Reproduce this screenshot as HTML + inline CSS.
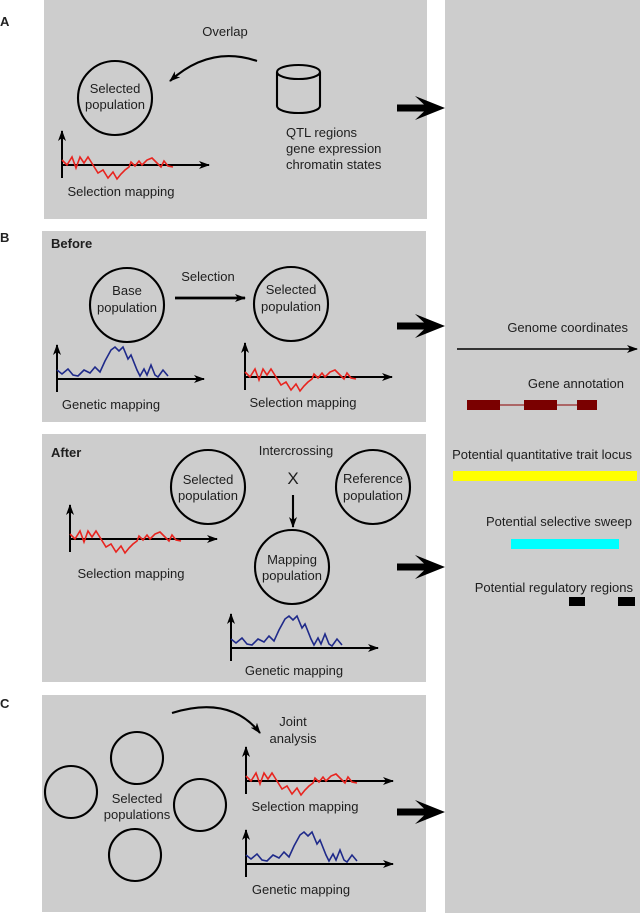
<!DOCTYPE html>
<html><head><meta charset="utf-8"><style>
html,body{margin:0;padding:0;background:#fff;}
svg{display:block;font-family:"Liberation Sans",Arial,sans-serif;}
</style></head><body>
<svg width="640" height="913" viewBox="0 0 640 913" xmlns="http://www.w3.org/2000/svg">
<defs>
<marker id="ah" markerWidth="11" markerHeight="8" refX="10" refY="4" orient="auto" markerUnits="userSpaceOnUse">
<path d="M0,0 L11,4 L0,8 L3,4 Z" fill="#000"/></marker>
<path id="red" fill="none" stroke="#e8241f" stroke-width="1.6" d="M0,-5 L5,0 L10,-8 L14,3 L18,-8 L22,-2 L26,-8 L31,0 L36,8 L41,5 L46,13 L51,7 L55,14 L59,9 L63,5 L67,2 L69,-3 L73,1 L77,-4 L80,0 L85,-5 L90,-7 L95,-2 L99,2 L102,-4 L106,1 L111,2"/>
<path id="blue" fill="none" stroke="#1f2a8a" stroke-width="1.6" d="M0,-9 L5,-5 L11,-10 L16,-4 L21,-3 L27,-9 L33,-6 L38,-12 L43,-7 L48,-18 L54,-29 L58,-32 L62,-28 L66,-32 L71,-20 L74,-24 L80,-9 L83,-3 L87,-10 L90,-4 L94,-14 L98,-4 L101,-2 L106,-9 L111,-3"/>
<g id="ax" stroke="#000" stroke-width="2" fill="none">
<line x1="0" y1="13" x2="0" y2="-34" marker-end="url(#ah)"/>
<line x1="0" y1="0" x2="147" y2="0" marker-end="url(#ah)"/>
</g>
<polygon id="big" points="0,-3.5 27,-3.5 18,-12 48,0 18,12 27,3.5 0,3.5" fill="#000"/>
</defs>
<rect x="0" y="0" width="640" height="913" fill="#fff"/>
<rect x="44" y="0" width="383" height="219" fill="#cdcdcd"/>
<rect x="42" y="231" width="384" height="191" fill="#cdcdcd"/>
<rect x="42" y="434" width="384" height="248" fill="#cdcdcd"/>
<rect x="42" y="695" width="384" height="217" fill="#cdcdcd"/>
<rect x="445" y="0" width="195" height="913" fill="#cdcdcd"/>

<g font-size="13" fill="#222">
<text x="0" y="26" font-weight="bold" font-size="13">A</text>
<text x="0" y="242" font-weight="bold" font-size="13">B</text>
<text x="0" y="708" font-weight="bold" font-size="13">C</text>
</g>

<g fill="none" stroke="#000" stroke-width="2.1">
<circle cx="115" cy="98" r="37"/>
<path d="M257,61 Q210,45 170,81" marker-end="url(#ah)"/>
<path d="M277,72 L277,106 A21.5,7 0 0 0 320,106 L320,72"/>
<ellipse cx="298.5" cy="72" rx="21.5" ry="7"/>
<circle cx="127" cy="305" r="37"/>
<circle cx="291" cy="304" r="37"/>
<line x1="175" y1="298" x2="245" y2="298" stroke-width="2.8" marker-end="url(#ah)"/>
<circle cx="208" cy="487" r="37"/>
<circle cx="373" cy="487" r="37"/>
<circle cx="292" cy="567" r="37"/>
<line x1="293" y1="495" x2="293" y2="527" marker-end="url(#ah)"/>
<circle cx="71" cy="792" r="26"/>
<circle cx="137" cy="758" r="26"/>
<circle cx="200" cy="805" r="26"/>
<circle cx="135" cy="855" r="26"/>
<path d="M172,713 Q230,695 260,733" marker-end="url(#ah)"/>
</g>

<use href="#ax" x="62" y="165"/><use href="#red" x="62" y="165"/>
<use href="#ax" x="57" y="379"/><use href="#blue" x="57" y="379"/>
<use href="#ax" x="245" y="377"/><use href="#red" x="245" y="377"/>
<use href="#ax" x="70" y="539"/><use href="#red" x="70" y="539"/>
<use href="#ax" x="231" y="648"/><use href="#blue" x="231" y="648"/>
<use href="#ax" x="246" y="781"/><use href="#red" x="246" y="781"/>
<use href="#ax" x="246" y="864"/><use href="#blue" x="246" y="864"/>

<use href="#big" x="397" y="108"/>
<use href="#big" x="397" y="326"/>
<use href="#big" x="397" y="567"/>
<use href="#big" x="397" y="812"/>

<g font-size="13" fill="#1e1e1e" text-anchor="middle">
<text x="225" y="36">Overlap</text>
<text x="115" y="93">Selected</text><text x="115" y="109">population</text>
<text x="121" y="196">Selection mapping</text>
<text x="286" y="137" text-anchor="start">QTL regions</text>
<text x="286" y="153" text-anchor="start">gene expression</text>
<text x="286" y="169" text-anchor="start">chromatin states</text>

<text x="51" y="248" text-anchor="start" font-weight="bold">Before</text>
<text x="127" y="295">Base</text><text x="127" y="312">population</text>
<text x="208" y="281">Selection</text>
<text x="291" y="294">Selected</text><text x="291" y="311">population</text>
<text x="111" y="409">Genetic mapping</text>
<text x="303" y="407">Selection mapping</text>

<text x="51" y="457" text-anchor="start" font-weight="bold">After</text>
<text x="296" y="455">Intercrossing</text>
<text x="293" y="484" font-size="17">X</text>
<text x="208" y="484">Selected</text><text x="208" y="500">population</text>
<text x="373" y="483">Reference</text><text x="373" y="500">population</text>
<text x="292" y="564">Mapping</text><text x="292" y="580">population</text>
<text x="131" y="578">Selection mapping</text>
<text x="294" y="675">Genetic mapping</text>

<text x="293" y="726">Joint</text><text x="293" y="743">analysis</text>
<text x="137" y="803">Selected</text><text x="137" y="819">populations</text>
<text x="305" y="811">Selection mapping</text>
<text x="301" y="894">Genetic mapping</text>
</g>

<g font-size="13" fill="#1e1e1e" text-anchor="end">
<text x="628" y="332">Genome coordinates</text>
<text x="624" y="388">Gene annotation</text>
<text x="632" y="459">Potential quantitative trait locus</text>
<text x="632" y="526">Potential selective sweep</text>
<text x="633" y="592">Potential regulatory regions</text>
</g>
<line x1="457" y1="349" x2="637" y2="349" stroke="#000" stroke-width="1.6" marker-end="url(#ah)"/>
<line x1="500" y1="405" x2="577" y2="405" stroke="#8b0000" stroke-width="1"/>
<rect x="467" y="400" width="33" height="10" fill="#7a0000"/>
<rect x="524" y="400" width="33" height="10" fill="#7a0000"/>
<rect x="577" y="400" width="20" height="10" fill="#7a0000"/>
<rect x="453" y="471" width="184" height="10" fill="#ffff00"/>
<rect x="511" y="539" width="108" height="10" fill="#00ffff"/>
<rect x="569" y="597" width="16" height="9" fill="#000"/>
<rect x="618" y="597" width="17" height="9" fill="#000"/>
</svg>
</body></html>
